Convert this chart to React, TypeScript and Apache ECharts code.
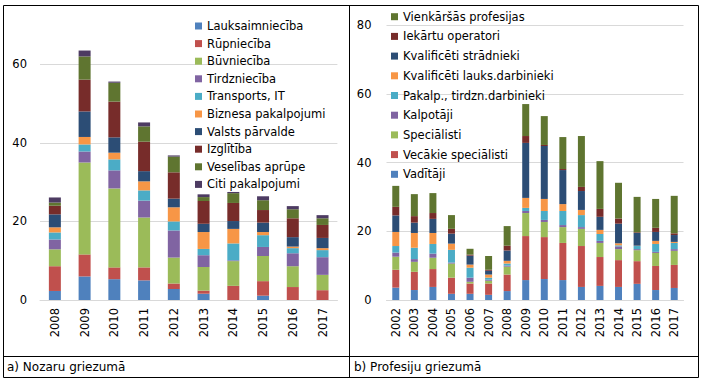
import React, { useEffect, useRef } from "react";
import * as echarts from "echarts";

const yearsA = ["2008", "2009", "2010", "2011", "2012", "2013", "2014", "2015", "2016", "2017"];
const yearsB = ["2002", "2003", "2004", "2005", "2006", "2007", "2008", "2009", "2010", "2011", "2012", "2013", "2014", "2015", "2016", "2017"];

// a) Nozaru griezumā
const lauksaimnieciba = [2.3, 6.0, 5.3, 5.0, 2.8, 1.6, 0, 1.1, 0, 0];
const rupnieciba = [6.3, 5.6, 3.0, 3.3, 1.4, 0.8, 3.6, 3.7, 3.3, 2.5];
const buvnieciba = [4.3, 23.4, 20.1, 12.7, 6.6, 6.0, 6.3, 6.4, 5.3, 3.9];
const tirdznieciba = [2.5, 2.8, 4.6, 4.3, 6.9, 3.0, 0.2, 2.3, 3.3, 4.5];
const transports = [1.8, 1.8, 2.8, 2.6, 2.3, 1.6, 4.3, 3.0, 1.3, 1.8];
const biznesa = [1.3, 1.9, 1.7, 2.3, 3.6, 4.3, 3.7, 0.8, 0.4, 0.5];
const valsts = [3.3, 6.5, 3.9, 2.6, 2.2, 2.1, 2.0, 2.4, 2.4, 2.6];
const izglitiba = [2.2, 8.1, 9.1, 7.5, 6.7, 5.8, 4.6, 3.2, 4.8, 3.3];
const veseliba = [0.8, 5.9, 4.8, 3.9, 4.0, 1.0, 2.5, 2.5, 2.3, 1.7];
const citi = [1.3, 1.5, 0.3, 1.0, 0.3, 0.7, 0.3, 1.0, 0.8, 0.8];

// b) Profesiju griezumā
const vaditaji = [3.6, 2.9, 3.8, 1.8, 1.8, 1.5, 2.6, 5.8, 6.1, 5.8, 3.8, 4.1, 3.8, 4.7, 2.9, 3.5];
const vecakie = [5.2, 5.3, 5.2, 4.7, 3.0, 3.3, 4.8, 12.8, 12.2, 10.8, 11.9, 8.4, 7.8, 6.6, 7.0, 6.7];
const specialisti = [3.8, 2.9, 3.3, 4.1, 0.5, 0.8, 2.3, 6.7, 4.4, 4.6, 5.0, 4.1, 3.2, 3.2, 3.8, 4.1];
const kalpotaji = [1.2, 0.8, 1.2, 0.3, 1.2, 0.3, 0.3, 0.6, 0.6, 0.6, 0.5, 0.6, 0.8, 0.3, 0.3, 0.5];
const pakalp = [1.9, 3.3, 2.8, 3.7, 2.9, 0.6, 0.6, 0.9, 2.6, 4.1, 3.5, 2.0, 0.3, 0.9, 2.3, 1.8];
const kvLauks = [4.1, 4.3, 3.2, 1.8, 0.9, 0.9, 0.8, 2.9, 3.5, 2.0, 1.5, 1.2, 0.6, 0.1, 0.9, 0.3];
const kvStradnieki = [4.8, 3.0, 4.1, 2.9, 2.6, 1.1, 3.0, 16.0, 15.4, 9.9, 5.5, 3.8, 5.7, 3.7, 2.6, 2.0];
const iekartu = [2.5, 1.9, 1.7, 1.4, 0.3, 0.3, 1.4, 2.0, 0.3, 0.3, 1.2, 2.3, 1.5, 0.2, 1.2, 0.5];
const vienkarsas = [6.1, 6.4, 5.8, 4.0, 1.7, 4.0, 5.7, 9.3, 8.4, 9.3, 14.8, 13.9, 10.4, 10.3, 8.4, 10.9];

const seriesA: [string, number[], string][] = [
  ["Lauksaimniecība", lauksaimnieciba, "#4F81BD"],
  ["Rūpniecība", rupnieciba, "#C0504D"],
  ["Būvniecība", buvnieciba, "#9BBB59"],
  ["Tirdzniecība", tirdznieciba, "#8064A2"],
  ["Transports, IT", transports, "#4BACC6"],
  ["Biznesa pakalpojumi", biznesa, "#F79646"],
  ["Valsts pārvalde", valsts, "#2C4D75"],
  ["Izglītība", izglitiba, "#772C2A"],
  ["Veselības aprūpe", veseliba, "#5F7530"],
  ["Citi pakalpojumi", citi, "#4D3B62"],
];

const seriesB: [string, number[], string][] = [
  ["Vadītāji", vaditaji, "#4F81BD"],
  ["Vecākie speciālisti", vecakie, "#C0504D"],
  ["Speciālisti", specialisti, "#9BBB59"],
  ["Kalpotāji", kalpotaji, "#8064A2"],
  ["Pakalp., tirdzn.darbinieki", pakalp, "#4BACC6"],
  ["Kvalificēti lauks.darbinieki", kvLauks, "#F79646"],
  ["Kvalificēti strādnieki", kvStradnieki, "#2C4D75"],
  ["Iekārtu operatori", iekartu, "#772C2A"],
  ["Vienkāršās profesijas", vienkarsas, "#5F7530"],
];

const FONT = "DejaVu Sans";
const GRID = "#D9D9D9";

export default function App() {
  const ref = useRef<HTMLDivElement>(null);
  useEffect(() => {
    if (!ref.current) return;
    const chart = echarts.init(ref.current, undefined, { renderer: "svg" });
    const labelStyle = { color: "#000", fontFamily: FONT, fontSize: 11.5 };
    const series: any[] = [];
    seriesA.forEach(([name, data, color]) => {
      series.push({
        type: "bar", name, data, stack: "a", xAxisIndex: 0, yAxisIndex: 0,
        barWidth: 12, itemStyle: { color }, emphasis: { disabled: true },
      });
    });
    seriesB.forEach(([name, data, color]) => {
      series.push({
        type: "bar", name, data, stack: "b", xAxisIndex: 1, yAxisIndex: 1,
        barWidth: 7, itemStyle: { color }, emphasis: { disabled: true },
      });
    });
    const legendCommon = {
      orient: "vertical",
      icon: "rect",
      itemWidth: 7,
      itemHeight: 7,
      selectedMode: false,
      padding: 0,
      textStyle: { color: "#000", fontFamily: FONT, fontSize: 11.5, lineHeight: 14 },
    };
    chart.setOption({
      animation: false,
      textStyle: { fontFamily: FONT },
      grid: [
        { left: 40, top: 25, width: 297.4, height: 275 },
        { left: 386.5, top: 25, width: 297, height: 275 },
      ],
      xAxis: [0, 1].map((i) => ({
        type: "category",
        gridIndex: i,
        data: i === 0 ? yearsA : yearsB,
        axisLine: { lineStyle: { color: GRID } },
        axisTick: { show: false },
        axisLabel: { ...labelStyle, rotate: 90, margin: 8 },
      })),
      yAxis: [
        {
          type: "value", gridIndex: 0, min: 0, max: 70, interval: 20,
          axisLine: { show: false }, axisTick: { show: false },
          axisLabel: { ...labelStyle, margin: 13, showMaxLabel: false },
          splitLine: { lineStyle: { color: GRID }, showMaxLine: false },
        },
        {
          type: "value", gridIndex: 1, min: 0, max: 80, interval: 20,
          axisLine: { show: false }, axisTick: { show: false },
          axisLabel: { ...labelStyle, margin: 15 },
          splitLine: { lineStyle: { color: GRID } },
        },
      ],
      legend: [
        { ...legendCommon, left: 195, top: 19, itemGap: 3.6, data: seriesA.map((s) => s[0]) },
        { ...legendCommon, left: 391, top: 9.7, itemGap: 5.7, data: seriesB.map((s) => s[0]).reverse() },
      ],
      graphic: [
        { type: "rect", shape: { x: 3.5, y: 5.5, width: 695, height: 372 }, style: { fill: "none", stroke: "#000", lineWidth: 1 }, silent: true },
        { type: "line", shape: { x1: 349.5, y1: 5.5, x2: 349.5, y2: 377.5 }, style: { stroke: "#000", lineWidth: 1 }, silent: true },
        { type: "line", shape: { x1: 3.5, y1: 356.5, x2: 698.5, y2: 356.5 }, style: { stroke: "#000", lineWidth: 1 }, silent: true },
        { type: "text", x: 7, y: 367, style: { text: "a) Nozaru griezumā", fill: "#000", font: `12px ${FONT}`, verticalAlign: "middle" }, silent: true },
        { type: "text", x: 354, y: 367, style: { text: "b) Profesiju griezumā", fill: "#000", font: `12px ${FONT}`, verticalAlign: "middle" }, silent: true },
      ],
      series,
    });
    return () => chart.dispose();
  }, []);
  return <div ref={ref} style={{ position: "fixed", left: 0, top: 0, width: 702, height: 382, background: "#fff" }} />;
}
